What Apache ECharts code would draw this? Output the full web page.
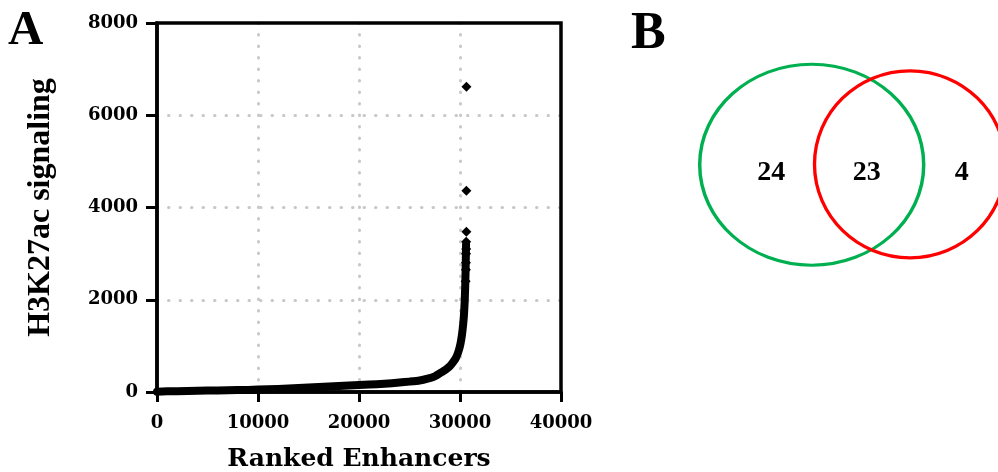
<!DOCTYPE html>
<html>
<head>
<meta charset="utf-8"/>
<title>Ranked enhancers / overlap</title>
<script src="https://cdn.jsdelivr.net/npm/echarts@6/dist/echarts.min.js"></script>
<style>
  html, body { margin: 0; padding: 0; background: #fff; }
  #chart { width: 998px; height: 472px; }
</style>
</head>
<body>
<div id="chart"></div>
<script>
  // ranked enhancer curve (rank -> H3K27ac signal)
  var ranks  = [0, 1000, 3000, 5000, 7000, 9000, 11000, 13000, 15000, 17000, 19000, 21000, 22500, 24000,
                25000, 26000, 26800, 27500, 28100, 28600, 29000, 29300, 29600, 29850, 30050, 30200,
                30320, 30400, 30460, 30510, 30550, 30580, 30600];
  var signal = [8, 15, 22, 30, 38, 46, 58, 75, 100, 120, 140, 160, 180, 205,
                225, 250, 290, 340, 420, 490, 560, 640, 740, 880, 1050, 1250,
                1480, 1700, 1950, 2250, 2600, 2950, 3200];
  // the strongest enhancers, visible as single diamonds
  var topRanks  = [30560, 30580, 30590, 30600, 30610, 30615, 30630, 30630, 30640];
  var topSignal = [2400, 2650, 2800, 3000, 3100, 3258, 3475, 4364, 6620];

  var xTicks = [0, 10000, 20000, 30000, 40000];
  var yTicks = [0, 2000, 4000, 6000, 8000];

  // venn counts: green only, overlap, red only
  var vennCounts = [24, 23, 4];

  // panel B layout (pixel space of the hidden grid)
  var vennCircles = [
    { cx: 811.7, cy: 164.7, w: 224, h: 201, color: '#00b050' },
    { cx: 910,   cy: 164.3, w: 191, h: 187, color: '#ff0000' }
  ];
  var vennLabelPos = [[771.3, 172.5], [866.7, 172.5], [961.7, 172.5]];

  var tickFont = { fontFamily: 'DejaVu Serif', fontWeight: 'bold', fontSize: 18, color: '#000' };
  var dotted = { color: '#c8c8c8', width: 3, type: [0.5, 11], cap: 'round' };
  var ellipsePath = 'path://M0,50 C0,22.4 22.4,0 50,0 C77.6,0 100,22.4 100,50 C100,77.6 77.6,100 50,100 C22.4,100 0,77.6 0,50 Z';
  var plain = function (v) { return String(v); };

  var curve = ranks.map(function (r, i) { return [r, signal[i]]; });
  var tops = topRanks.map(function (r, i) { return [r, topSignal[i]]; });

  var chart = echarts.init(document.getElementById('chart'));
  chart.setOption({
    backgroundColor: '#fff',
    animation: false,
    grid: [
      { left: 157, top: 23, width: 404, height: 369, show: true, z: 5, outerBoundsMode: 'none',
        borderColor: '#000', borderWidth: 3.5, backgroundColor: 'transparent' },
      { left: 600, top: 0, width: 398, height: 472, outerBoundsMode: 'none' }
    ],
    xAxis: [
      {
        type: 'value', gridIndex: 0,
        min: xTicks[0], max: xTicks[xTicks.length - 1], interval: xTicks[1] - xTicks[0],
        name: 'Ranked Enhancers', nameLocation: 'middle', nameGap: 55,
        nameTextStyle: { fontFamily: 'DejaVu Serif', fontWeight: 'bold', fontSize: 25, color: '#000' },
        axisLine: { show: true, lineStyle: { color: '#000', width: 3.5 } },
        axisTick: { show: true, inside: false, length: 10, lineStyle: { color: '#000', width: 3 } },
        axisLabel: Object.assign({ margin: 22, formatter: plain }, tickFont),
        splitLine: { show: true, showMinLine: false, showMaxLine: false, lineStyle: dotted }
      },
      { type: 'value', gridIndex: 1, min: 600, max: 998, show: false }
    ],
    yAxis: [
      {
        type: 'value', gridIndex: 0,
        min: yTicks[0], max: yTicks[yTicks.length - 1], interval: yTicks[1] - yTicks[0],
        name: 'H3K27ac signaling', nameLocation: 'middle', nameRotate: 90, nameGap: 100,
        nameTextStyle: { fontFamily: 'Liberation Serif', fontWeight: 'bold', fontSize: 32, color: '#000' },
        axisLine: { show: true, lineStyle: { color: '#000', width: 3.5 } },
        axisTick: { show: true, inside: false, length: 11, lineStyle: { color: '#000', width: 3 } },
        axisLabel: Object.assign({ margin: 19, formatter: plain }, tickFont),
        splitLine: { show: true, showMinLine: false, showMaxLine: false, lineStyle: dotted }
      },
      { type: 'value', gridIndex: 1, min: 0, max: 472, inverse: true, show: false }
    ],
    series: [
      {
        type: 'line', xAxisIndex: 0, yAxisIndex: 0, data: curve,
        showSymbol: false, smooth: 0.2, z: 3,
        lineStyle: { color: '#000', width: 8, cap: 'round', join: 'round' }
      },
      {
        type: 'scatter', xAxisIndex: 0, yAxisIndex: 0, data: tops,
        symbol: 'diamond', symbolSize: 10, z: 4,
        itemStyle: { color: '#000', opacity: 1 }
      },
      {
        type: 'scatter', xAxisIndex: 1, yAxisIndex: 1, clip: false, silent: true,
        data: vennCircles.map(function (c) {
          return {
            value: [c.cx, c.cy], symbolSize: [c.w, c.h],
            itemStyle: { color: 'rgba(0,0,0,0)', borderColor: c.color, borderWidth: 3.3, opacity: 1 }
          };
        }),
        symbol: ellipsePath
      },
      {
        type: 'scatter', xAxisIndex: 1, yAxisIndex: 1, clip: false, silent: true,
        symbolSize: 0, itemStyle: { opacity: 1 },
        data: vennLabelPos.map(function (p) { return [p[0], p[1]]; }),
        label: {
          show: true, position: 'inside',
          formatter: function (p) { return String(vennCounts[p.dataIndex]); },
          fontFamily: 'Liberation Serif', fontWeight: 'bold', fontSize: 28, color: '#000'
        }
      }
    ],
    graphic: [
      { type: 'text', left: 8, top: 7, style: { text: 'A', fontFamily: 'Liberation Serif', fontWeight: 'bold', fontSize: 49, fill: '#000' } },
      { type: 'text', left: 631, top: 9, style: { text: 'B', fontFamily: 'Liberation Serif', fontWeight: 'bold', fontSize: 52, fill: '#000' } }
    ]
  });
</script>
</body>
</html>
